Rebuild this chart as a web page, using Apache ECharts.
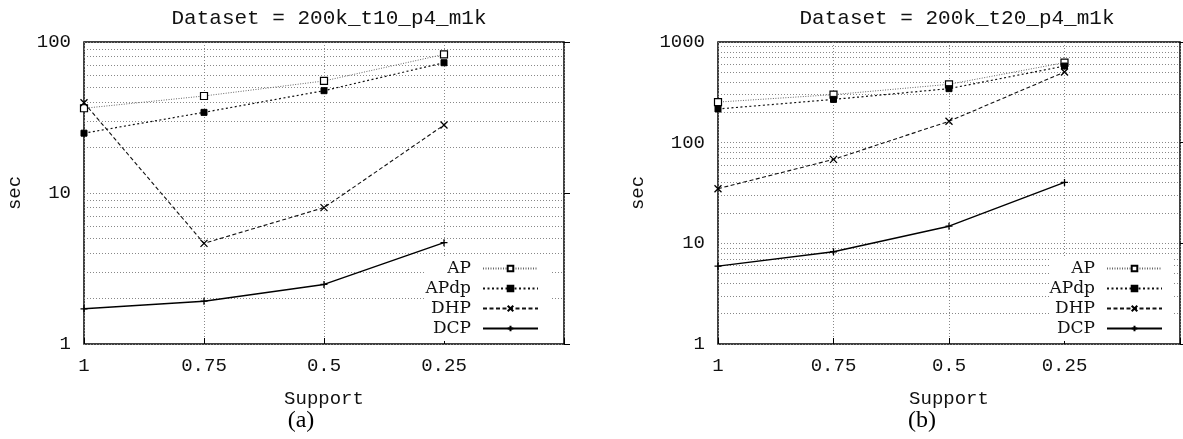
<!DOCTYPE html>
<html>
<head>
<meta charset="utf-8">
<script src="https://cdn.jsdelivr.net/npm/echarts@6/dist/echarts.min.js"></script>
<style>
html, body { margin: 0; padding: 0; background: #fff; }
#chart { width: 1183px; height: 439px; }
</style>
</head>
<body>
<div id="chart"></div>
<script>
// support thresholds on the x axis (plotted right to left)
var support = [1, 0.75, 0.5, 0.25];
var names = ['AP', 'APdp', 'DHP', 'DCP'];

// (a) Dataset = 200k_t10_p4_m1k, seconds
var t10AP = [36.4, 43.9, 55.2, 82.8];
var t10APdp = [24.9, 34.2, 47.6, 72.9];
var t10DHP = [39.6, 4.64, 8.0, 28.2];
var t10DCP = [1.71, 1.92, 2.48, 4.69];

// (b) Dataset = 200k_t20_p4_m1k, seconds
var t20AP = [253, 300, 380, 624];
var t20APdp = [216, 269, 344, 577];
var t20DHP = [34.9, 68.2, 163, 503];
var t20DCP = [5.93, 8.25, 14.8, 40.3];

var titles = ['Dataset = 200k_t10_p4_m1k', 'Dataset = 200k_t20_p4_m1k'];
var captions = ['(a)', '(b)'];

var mono = '"Liberation Mono", "DejaVu Sans Mono", monospace';
var serif = '"DejaVu Serif", serif';

var crossPath = 'path://M0,0L10,10M10,0L0,10';
var plusPath = 'path://M5,0L5,10M0,5L10,5';

var styles = {
    AP: { symbol: 'rect', size: 7, line: { color: '#666', width: 1, type: [1, 1.5] }, item: { color: '#fff', borderColor: '#000', borderWidth: 1.2 } },
    APdp: { symbol: 'rect', size: 6, line: { color: '#111', width: 1.2, type: [2, 2.5] }, item: { color: '#000', borderColor: '#000', borderWidth: 1 } },
    DHP: { symbol: crossPath, size: 7, line: { color: '#111', width: 1.1, type: [4, 2.5] }, item: { color: 'none', borderColor: '#000', borderWidth: 1.3 } },
    DCP: { symbol: plusPath, size: 7, line: { color: '#000', width: 1.4, type: 'solid' }, item: { color: 'none', borderColor: '#000', borderWidth: 1.3 } }
};

function pairs(vals) {
    return support.map(function (s, i) { return [s, vals[i]]; });
}

function makeSeries(name, vals, idx) {
    var st = styles[name];
    return {
        name: name,
        type: 'line',
        xAxisIndex: idx,
        yAxisIndex: idx,
        data: pairs(vals),
        symbol: st.symbol,
        symbolSize: st.size,
        showAllSymbol: true,
        lineStyle: st.line,
        itemStyle: st.item,
        emphasis: { disabled: true },
        animation: false
    };
}

var gridLine = { show: true, lineStyle: { color: '#888', width: 1, type: [1, 2] } };

function xAxis(idx) {
    return {
        type: 'value',
        gridIndex: idx,
        inverse: true,
        min: 0,
        max: 1,
        interval: 0.25,
        name: 'Support',
        nameLocation: 'middle',
        nameGap: 45,
        nameMoveOverlap: false,
        nameTextStyle: { fontFamily: mono, fontSize: 19, color: '#111' },
        axisLine: { show: false },
        axisTick: { show: true, inside: true, length: 6, lineStyle: { color: '#000' } },
        axisLabel: {
            fontFamily: mono, fontSize: 19, color: '#111', margin: 12,
            formatter: function (v) { return v === 0 ? '' : String(v); }
        },
        splitLine: gridLine
    };
}

function yAxis(idx, max, gap) {
    return {
        type: 'log',
        logBase: 10,
        gridIndex: idx,
        min: 1,
        max: max,
        name: 'sec',
        nameLocation: 'middle',
        nameGap: gap,
        nameRotate: 90,
        nameMoveOverlap: false,
        nameTextStyle: { fontFamily: mono, fontSize: 19, color: '#111' },
        axisLine: { show: false },
        axisTick: { show: true, inside: true, length: 6, lineStyle: { color: '#000' } },
        axisLabel: {
            fontFamily: mono, fontSize: 19, color: '#111', margin: 13,
            formatter: function (v) { return String(v); }
        },
        splitLine: gridLine,
        minorTick: { show: false, splitNumber: 9 },
        minorSplitLine: { show: true, lineStyle: { color: '#888', width: 1, type: [1, 2] } }
    };
}

function legend(idx, right) {
    return {
        orient: 'vertical',
        right: right,
        top: 258,
        align: 'right',
        itemWidth: 55,
        itemHeight: 7,
        itemGap: 3,
        padding: [2, 11, 4, 0],
        backgroundColor: '#fff',
        selectedMode: false,
        data: names,
        textStyle: { fontFamily: serif, fontSize: 17, color: '#111', padding: [0, 7, 0, 0] }
    };
}

var myChart = echarts.init(document.getElementById('chart'));
var option = {
    animation: false,
    title: [
        { text: titles[0], left: 324, top: 3, textAlign: 'center', textStyle: { fontFamily: mono, fontSize: 21, fontWeight: 'normal', color: '#111' } },
        { text: titles[1], left: 952, top: 3, textAlign: 'center', textStyle: { fontFamily: mono, fontSize: 21, fontWeight: 'normal', color: '#111' } },
        { text: captions[0], left: 296, top: 404, textAlign: 'center', textStyle: { fontFamily: '"Liberation Serif", serif', fontSize: 24, fontWeight: 'normal', color: '#000' } },
        { text: captions[1], left: 917, top: 404, textAlign: 'center', textStyle: { fontFamily: '"Liberation Serif", serif', fontSize: 24, fontWeight: 'normal', color: '#000' } }
    ],
    legend: [legend(0, 633), legend(1, 9)],
    grid: [
        { left: 84, right: 619, top: 42, bottom: 95, show: true, borderColor: '#000', borderWidth: 1.5, backgroundColor: 'transparent' },
        { left: 718, right: -3, top: 42, bottom: 95, show: true, borderColor: '#000', borderWidth: 1.5, backgroundColor: 'transparent' }
    ],
    xAxis: [xAxis(0), xAxis(1)],
    yAxis: [yAxis(0, 100, 60), yAxis(1, 1000, 71)],
    series: [
        makeSeries('AP', t10AP, 0),
        makeSeries('APdp', t10APdp, 0),
        makeSeries('DHP', t10DHP, 0),
        makeSeries('DCP', t10DCP, 0),
        makeSeries('AP', t20AP, 1),
        makeSeries('APdp', t20APdp, 1),
        makeSeries('DHP', t20DHP, 1),
        makeSeries('DCP', t20DCP, 1)
    ]
};
option && myChart.setOption(option);
window.addEventListener('resize', function () {
    myChart.resize();
});
</script>
</body>
</html>
